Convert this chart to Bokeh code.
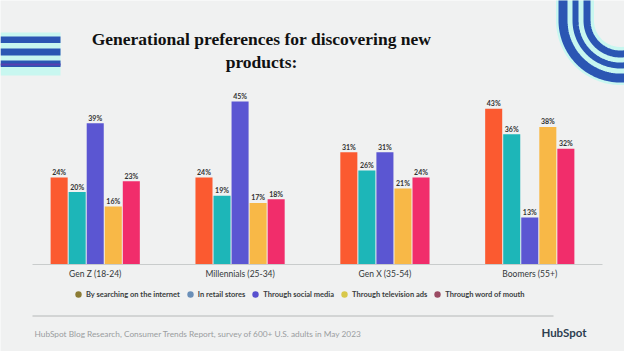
import numpy as np
from bokeh.plotting import figure
from bokeh.models import FactorRange, Range1d, ColumnDataSource, Legend, LegendItem
from bokeh.core.properties import value
from bokeh.transform import dodge
from bokeh.embed import file_html
from bokeh.resources import INLINE

# ---------------- data ----------------
generations = ["Gen Z (18-24)", "Millennials (25-34)", "Gen X (35-54)", "Boomers (55+)"]
channels = ["By searching on the internet", "In retail stores", "Through social media",
            "Through television ads", "Through word of mouth"]
internet = [24, 24, 31, 43]
retail = [20, 19, 26, 36]
social = [39, 45, 31, 13]
television = [16, 17, 21, 38]
word_of_mouth = [23, 18, 24, 32]

title_lines = ["Generational preferences for discovering new", "products:"]
source_note = "HubSpot Blog Research, Consumer Trends Report, survey of 600+ U.S. adults in May 2023"

# ---------------- styles ----------------
BG = "#f0f1f1"
bar_colors = ["#fb5a30", "#1db6b8", "#5b56d2", "#f8b847", "#f12d6b"]
legend_colors = ["#8c7c35", "#6a8fb8", "#5850cf", "#d8c84a", "#9a4b63"]
W, H = 624, 351
PX_PER_UNIT = 3.62
BASE = 264
GROUP_PX = 144.5
BAR_W = 17 / GROUP_PX
STEP = 18 / GROUP_PX
FONT = "Lato"

series = [internet, retail, social, television, word_of_mouth]
data = {"gen": generations}
for i, s in enumerate(series):
    data[f"v{i}"] = s
    data[f"l{i}"] = [f"{v}%" for v in s]
src = ColumnDataSource(data)

pad = 22.25 / GROUP_PX
x_range = FactorRange(*generations, range_padding=pad, range_padding_units="absolute")
y_range = Range1d(-(H - BASE) / PX_PER_UNIT, BASE / PX_PER_UNIT)
X0 = -pad
X1 = len(generations) + pad

def sx(px):
    """pixel column -> synthetic categorical coordinate"""
    return X0 + np.asarray(px, dtype=float) / W * (X1 - X0)

p = figure(width=W, height=H, x_range=x_range, y_range=y_range, title=None,
           output_backend="svg", toolbar_location=None, min_border=0,
           x_axis_location=None, y_axis_location=None,
           background_fill_color=BG, border_fill_color=BG, outline_line_color=None)
p.grid.visible = False
p.extra_y_ranges = {"py": Range1d(H, 0)}
PY = dict(y_range_name="py")

# ---------------- decorations ----------------
p.quad(left=sx([0]), right=sx([60]), top=[32], bottom=[75], color="#c8f7f0", line_color=None, **PY)
p.quad(left=sx([0, 0, 0]), right=sx([60, 60, 60]), top=[36, 48, 60], bottom=[42.5, 55, 66.5],
       color="#2b56b3", line_color=None, **PY)
p.quad(left=sx([0]), right=sx([60]), top=[63], bottom=[65], color="#5a3fb0", line_color=None, **PY)

cx, cy = 620.0, 20.0
t = np.linspace(np.pi, 0, 80)
def u_path(r):
    xs = [cx - r] + list(cx + r * np.cos(t)) + [cx + r]
    ys = [-5] + list(cy + r * np.sin(t)) + [-5]
    return list(sx(xs)), ys
xs, ys = u_path(45.5)
p.line(xs, ys, line_width=38, line_color="#c8f7f0", **PY)
for r, w in [(57.5, 9), (45, 6), (33.5, 7)]:
    xs, ys = u_path(r)
    p.line(xs, ys, line_width=w, line_color="#2b56b3", **PY)

# ---------------- title ----------------
p.text(x=list(sx([261, 261])), y=[38, 61], text=title_lines, text_align="center",
       text_baseline="alphabetic", text_font=value("Liberation Serif"),
       text_font_style="bold", text_font_size="17.5px", text_color="#111111", **PY)

# ---------------- bars ----------------
offsets = [-2 * STEP, -STEP, 0, STEP, 2 * STEP]
for i in range(5):
    p.vbar(x=dodge("gen", offsets[i], range=p.x_range), top=f"v{i}", width=BAR_W,
           bottom=0, source=src, fill_color=bar_colors[i], line_color=None)
    p.text(x=dodge("gen", offsets[i], range=p.x_range), y=f"v{i}", text=f"l{i}",
           source=src, text_align="center", text_baseline="bottom", y_offset=-1.5,
           text_font=value(FONT), text_font_style="bold", text_font_size="7px",
           text_color="#333333")

# baseline
p.segment(x0=sx([32]), x1=sx([602]), y0=[264], y1=[264], line_color="#c9cccc", line_width=1, **PY)

# category labels
p.text(x="gen", y=273, text="gen", source=src, y_range_name="py",
       text_align="center", text_baseline="middle", text_font=value(FONT),
       text_font_size="8.5px", text_color="#33383a")

# ---------------- legend ----------------
items = []
for name, col in zip(channels, legend_colors):
    r = p.scatter(x=[generations[0]], y=[-1000], marker="circle", size=6,
                  fill_color=col, line_color=None)
    items.append(LegendItem(label=name, renderers=[r]))
legend = Legend(items=items, orientation="horizontal", location=(70, 49),
                glyph_width=16, glyph_height=16, label_height=16, label_width=10,
                label_standoff=0, spacing=2, padding=0, margin=0,
                label_text_font=FONT, label_text_font_style="bold",
                label_text_font_size="7.5px", label_text_color="#3a3d40",
                background_fill_alpha=0, border_line_color=None)
p.add_layout(legend)

# ---------------- footer ----------------
p.segment(x0=sx([32]), x1=sx([553]), y0=[315.5], y1=[315.5], line_color="#b5b8b8", line_width=1, **PY)
p.text(x=list(sx([34])), y=[333], text=[source_note], text_align="left", text_baseline="middle",
       text_font=value(FONT), text_font_size="8.3px", text_color="#9a9d9f", **PY)
p.text(x=list(sx([586])), y=[332], text=["HubSpot"], text_align="right", text_baseline="middle",
       text_font=value(FONT), text_font_style="bold", text_font_size="11.5px",
       text_color="#2d3e50", **PY)

open("out.html", "w").write(file_html(p, INLINE))
